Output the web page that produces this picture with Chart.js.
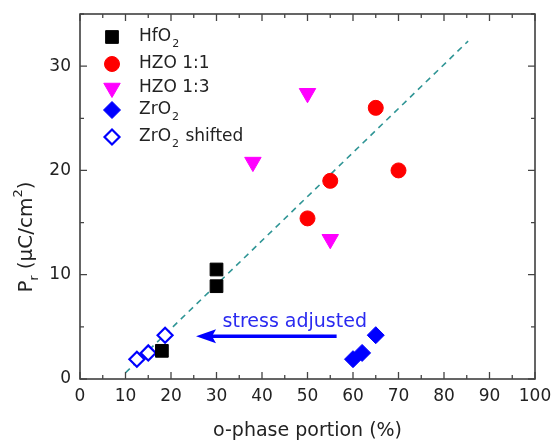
<!DOCTYPE html>
<html>
<head>
<meta charset="UTF-8">
<script src="https://cdn.jsdelivr.net/npm/chart.js@4.4.0/dist/chart.umd.min.js"></script>
<style>
  body { margin: 0; background: #fff; }
  #wrap { width: 556px; height: 446px; }
</style>
</head>
<body>
<div id="wrap"><canvas id="c" width="556" height="446"></canvas></div>
<script>
// data
const hfo2 = [[18, 2.7], [30, 10.5], [30, 8.9]];
const hzo11 = [[50, 15.4], [55, 19], [65, 26], [70, 20]];
const hzo13 = [[38, 20.8], [50, 27.4], [55, 13.4]];
const zro2 = [[60, 1.9], [62, 2.5], [65, 4.2]];
const zro2Shifted = [[12.5, 1.9], [15, 2.5], [18.7, 4.2]];
const fitX = [10, 85.3];
const fitY = [0.6, 32.4];
const arrowX = [56.4, 25.5];
const arrowY = 4.1;
const xTicks = [0, 10, 20, 30, 40, 50, 60, 70, 80, 90, 100];
const yTicks = [0, 10, 20, 30];

const pts = a => a.map(p => ({ x: p[0], y: p[1] }));
const FONT = "'DejaVu Sans', Verdana, sans-serif";

const legendItems = [
  { main: 'HfO', sub: '2', rest: '', style: 'rect', r: 9, fill: '#000', stroke: '#000', rot: 0 },
  { main: 'HZO 1:1', sub: '', rest: '', style: 'circle', r: 7.5, fill: '#ff0000', stroke: '#ff0000', rot: 0 },
  { main: 'HZO 1:3', sub: '', rest: '', style: 'triangle', r: 9.5, fill: '#ff00ff', stroke: '#ff00ff', rot: 180 },
  { main: 'ZrO', sub: '2', rest: '', style: 'rectRot', r: 8.5, fill: '#0000ff', stroke: '#0000ff', rot: 0 },
  { main: 'ZrO', sub: '2', rest: ' shifted', style: 'rectRot', r: 7.5, fill: '#ffffff', stroke: '#0000ff', rot: 0, bw: 2.2 }
];
const legendRows = [37, 64, 88, 110, 137];

const framePlugin = {
  id: 'frame',
  afterDatasetsDraw(chart) {
    const { ctx, chartArea: a, scales: { x, y } } = chart;
    ctx.save();
    // box
    ctx.strokeStyle = '#333';
    ctx.lineWidth = 1.5;
    ctx.strokeRect(a.left, a.top, a.right - a.left, a.bottom - a.top);
    // inside ticks
    ctx.lineWidth = 1.3;
    ctx.strokeStyle = '#444';
    ctx.beginPath();
    for (let v = 0; v <= 100; v += 5) {
      const px = x.getPixelForValue(v);
      const len = v % 10 === 0 ? 7 : 4;
      ctx.moveTo(px, a.bottom); ctx.lineTo(px, a.bottom - len);
      ctx.moveTo(px, a.top); ctx.lineTo(px, a.top + len);
    }
    for (let v = 0; v <= 35; v += 5) {
      const py = y.getPixelForValue(v);
      const len = v % 10 === 0 ? 7 : 4;
      ctx.moveTo(a.left, py); ctx.lineTo(a.left + len, py);
      ctx.moveTo(a.right, py); ctx.lineTo(a.right - len, py);
    }
    ctx.stroke();

    // arrow
    const x0 = x.getPixelForValue(arrowX[0]);
    const x1 = x.getPixelForValue(arrowX[1]);
    const ay = y.getPixelForValue(arrowY);
    ctx.strokeStyle = '#0000ff';
    ctx.fillStyle = '#0000ff';
    ctx.lineWidth = 3.5;
    ctx.beginPath();
    ctx.moveTo(x0, ay); ctx.lineTo(x1 + 14, ay);
    ctx.stroke();
    ctx.beginPath();
    ctx.moveTo(x1, ay); ctx.lineTo(x1 + 20, ay - 7); ctx.lineTo(x1 + 16, ay); ctx.lineTo(x1 + 20, ay + 7);
    ctx.closePath(); ctx.fill();
    ctx.font = '19px ' + FONT;
    ctx.fillStyle = '#2a2af0';
    ctx.textAlign = 'center';
    ctx.textBaseline = 'middle';
    ctx.fillText('stress adjusted', x.getPixelForValue(47.2), y.getPixelForValue(5.5));

    // legend
    ctx.textAlign = 'left';
    legendItems.forEach((it, i) => {
      const ly = legendRows[i];
      ctx.fillStyle = it.fill;
      ctx.strokeStyle = it.stroke;
      ctx.lineWidth = it.bw || 1;
      Chart.helpers.drawPoint(ctx, { pointStyle: it.style, radius: it.r, rotation: it.rot, borderWidth: it.bw || 1 }, 112, ly);
      ctx.fillStyle = '#222';
      ctx.font = '17px ' + FONT;
      ctx.textBaseline = 'middle';
      let tx = 139;
      ctx.fillText(it.main, tx, ly);
      tx += ctx.measureText(it.main).width;
      if (it.sub) {
        ctx.font = '11px ' + FONT;
        ctx.fillText(it.sub, tx + 1, ly + 7);
        tx += ctx.measureText(it.sub).width + 2;
        ctx.font = '17px ' + FONT;
      }
      if (it.rest) ctx.fillText(it.rest, tx, ly);
    });

    // y axis title with subscript/superscript
    ctx.save();
    ctx.translate(27, 237);
    ctx.rotate(-Math.PI / 2);
    ctx.fillStyle = '#222';
    ctx.textBaseline = 'middle';
    const parts = [['P', 20, 0], ['r', 12, 8], [' (\u03bcC/cm', 20, 0], ['2', 13, -8], [')', 20, 0]];
    let w = 0;
    parts.forEach(p => { ctx.font = p[1] + 'px ' + FONT; w += ctx.measureText(p[0]).width; });
    let tx = -w / 2;
    parts.forEach(p => {
      ctx.font = p[1] + 'px ' + FONT;
      ctx.fillText(p[0], tx, p[2]);
      tx += ctx.measureText(p[0]).width;
    });
    ctx.restore();
    ctx.restore();
  }
};

new Chart(document.getElementById('c'), {
  type: 'scatter',
  data: {
    datasets: [
      { type: 'line', data: fitX.map((v, i) => ({ x: v, y: fitY[i] })), borderColor: '#2f9595', borderWidth: 1.6, borderDash: [6, 5], pointRadius: 0, fill: false, order: 10 },
      { data: pts(hfo2), pointStyle: 'rect', pointRadius: 9, backgroundColor: '#000', borderColor: '#000', borderWidth: 1 },
      { data: pts(hzo11), pointStyle: 'circle', pointRadius: 7.5, backgroundColor: '#ff0000', borderColor: '#ff0000', borderWidth: 1 },
      { data: pts(hzo13), pointStyle: 'triangle', pointRotation: 180, pointRadius: 9.5, backgroundColor: '#ff00ff', borderColor: '#ff00ff', borderWidth: 1 },
      { data: pts(zro2), pointStyle: 'rectRot', pointRadius: 8.5, backgroundColor: '#0000ff', borderColor: '#0000ff', borderWidth: 1 },
      { data: pts(zro2Shifted), pointStyle: 'rectRot', pointRadius: 7.5, backgroundColor: '#ffffff', borderColor: '#0000ff', borderWidth: 2.2 }
    ]
  },
  plugins: [framePlugin],
  options: {
    responsive: false,
    animation: false,
    layout: { padding: { top: 14, right: 21, left: 0, bottom: 0 } },
    plugins: { legend: { display: false }, tooltip: { enabled: false } },
    scales: {
      x: {
        type: 'linear', min: 0, max: 100,
        afterBuildTicks: s => { s.ticks = xTicks.map(v => ({ value: v })); },
        afterFit: s => { s.height = 67; s.paddingLeft = 0; s.paddingRight = 0; },
        grid: { display: false, drawTicks: false },
        border: { display: false },
        ticks: { color: '#222', font: { family: FONT, size: 17 }, padding: 7, maxRotation: 0 },
        title: { display: true, text: 'o-phase portion (%)', color: '#222', font: { family: FONT, size: 19 }, padding: { top: 10 } }
      },
      y: {
        type: 'linear', min: 0, max: 35,
        afterBuildTicks: s => { s.ticks = yTicks.map(v => ({ value: v })); },
        afterFit: s => { s.width = 80; s.paddingTop = 0; s.paddingBottom = 0; },
        grid: { display: false, drawTicks: false },
        border: { display: false },
        ticks: { color: '#222', font: { family: FONT, size: 17 }, padding: 9 }
      }
    }
  }
});
</script>
</body>
</html>
